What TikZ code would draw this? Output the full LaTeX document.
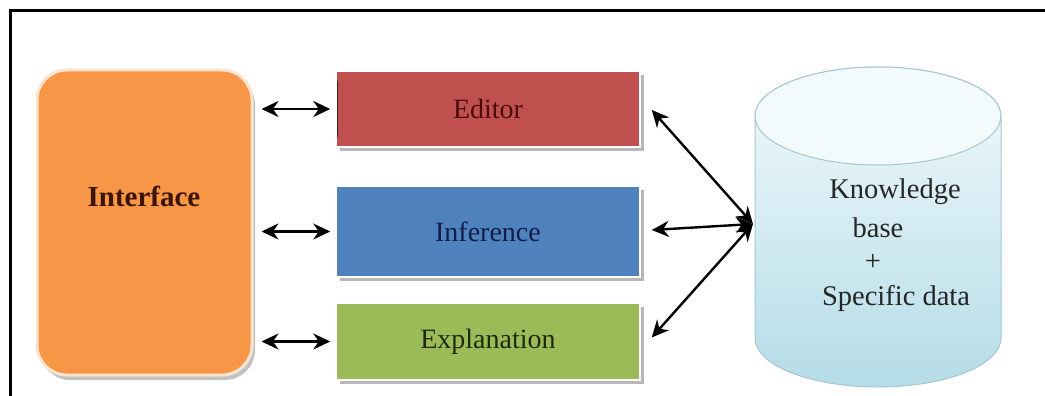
\documentclass[tikz,border=0pt]{standalone}
\usepackage{fontspec}
\setmainfont{Liberation Serif}
\usetikzlibrary{arrows.meta,shadows}
\definecolor{ifcorange}{HTML}{F79646}
\definecolor{ifcedge}{HTML}{FBE3CF}
\definecolor{edred}{HTML}{C0504D}
\definecolor{infblue}{HTML}{4F81BD}
\definecolor{exgreen}{HTML}{9BBB59}
\definecolor{kbblue}{HTML}{B4DCE7}
\definecolor{kbtop}{HTML}{F3FAFC}
\definecolor{kbline}{HTML}{A6C7D1}
\definecolor{edtext}{HTML}{4A0C0C}
\definecolor{inftext}{HTML}{0F1F4A}
\definecolor{extext}{HTML}{1E2A05}
\definecolor{ifctext}{HTML}{3B1500}
\begin{document}
\begin{tikzpicture}[x=1pt,y=-1pt,
  module/.style={rectangle, minimum width=304pt, draw=white, line width=1.5pt,
    drop shadow={shadow xshift=4pt,shadow yshift=-4pt,fill=black!40,opacity=.7},
    font=\fontsize{28}{32}\selectfont},
  biarrow/.style={line width=2.4pt, {Stealth[length=17pt,width=16pt]}-{Stealth[length=17pt,width=16pt]}},
  kbtxt/.style={font=\fontsize{28.5}{32}\selectfont, text=black!85}
]
\useasboundingbox (0,0) rectangle (1045,396);
% frame
\draw[line width=3pt] (10,396) -- (10,11) -- (1045,11);

% interface
\node[rectangle, rounded corners=30pt, minimum width=215pt, minimum height=305pt,
  fill=ifcorange, draw=ifcedge, line width=3pt,
  drop shadow={shadow xshift=3pt,shadow yshift=-5pt,fill=black!40,opacity=.6}] (ifc) at (144.5,222.5) {};
\node[font=\bfseries\fontsize{29}{32}\selectfont, text=ifctext] (ifclabel) at (144,196) {Interface};

% modules
\node[module, fill=edred, minimum height=76pt, text=edtext] (ed) at (488,109) {Editor};
\node[module, fill=infblue, minimum height=91pt, text=inftext] (inf) at (488,231.5) {Inference};
\node[module, fill=exgreen, minimum height=77pt, text=extext] (ex) at (488,341.5) {Explanation};
\draw[line width=1.5pt, black!85] ([xshift=2pt,yshift=28pt]ed.west) -- ([xshift=2pt,yshift=-28pt]ed.west);

% knowledge base cylinder
\shade[top color=kbtop, bottom color=kbblue, draw=kbline, line width=1pt]
  (755,116) -- (755,338) arc[start angle=180, end angle=360, x radius=123pt, y radius=49pt]
  -- (1001,116) arc[start angle=0, end angle=180, x radius=123pt, y radius=49pt] -- cycle;
\draw[fill=kbtop, draw=kbline, line width=1pt] (878,116) ellipse [x radius=123pt, y radius=49pt];
\node[kbtxt] (kb1) at (895,192) {Knowledge};
\node[kbtxt] (kb2) at (878,228) {base};
\node[kbtxt] (kb3) at (873,262) {+};
\node[kbtxt] (kb4) at (896,298) {Specific data};
\coordinate (hub) at (753,224);

% left connectors
\draw[biarrow] ([xshift=8pt]ifc.east |- ed.west) -- ([xshift=-5pt]ed.west);
\draw[biarrow] ([xshift=8pt]ifc.east |- inf.west) -- ([xshift=-5pt]inf.west);
\draw[biarrow] ([xshift=8pt]ifc.east |- ex.west) -- ([xshift=-5pt]ex.west);

% right connectors
\draw[biarrow] (hub) -- ([xshift=11pt,yshift=-1pt]ed.east);
\draw[biarrow] (hub) -- ([xshift=11pt,yshift=1.5pt]inf.east);
\draw[biarrow] (hub) -- ([xshift=11pt,yshift=4pt]ex.east);
\end{tikzpicture}
\end{document}
